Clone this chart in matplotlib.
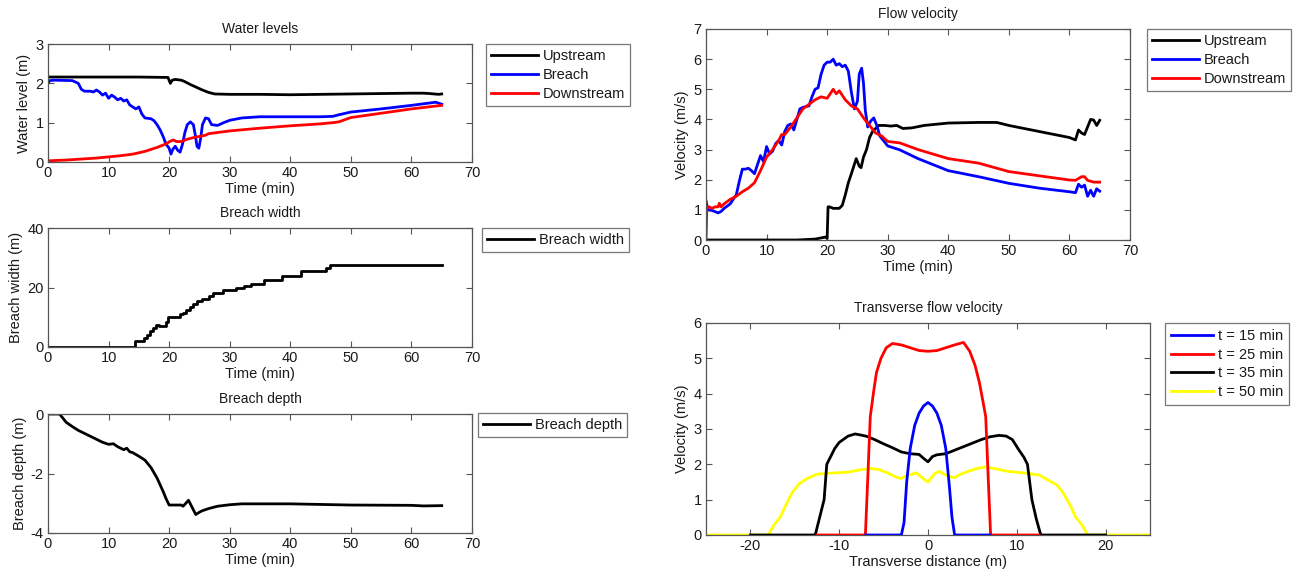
import matplotlib
matplotlib.use("Agg")
import matplotlib.pyplot as plt

plt.rcParams['font.family'] = ['Liberation Sans', 'DejaVu Sans']
plt.rcParams['axes.unicode_minus'] = False

# ---------------- Water levels (m) vs time (min) ----------------
t_up = [0, 5, 10, 15, 19.8, 20.2, 20.5, 21, 22, 22.5, 23.5, 24.5, 25.5, 26.5, 27.5,
        30, 35, 40, 45, 50, 55, 60, 62, 63, 64.5, 65]
level_up = [2.16, 2.16, 2.16, 2.16, 2.15, 2.0, 2.08, 2.1, 2.08, 2.05, 1.97, 1.9, 1.83, 1.77, 1.73,
            1.72, 1.72, 1.71, 1.72, 1.73, 1.74, 1.75, 1.75, 1.74, 1.72, 1.73]

t_br = [0, 0.3, 1, 4, 5, 5.5, 6, 7, 7.5, 8, 8.5, 9, 9.5, 10, 10.5, 11, 11.5, 12, 12.5, 13,
        13.5, 14, 14.5, 15, 15.5, 16, 17, 17.5, 18, 18.5, 19, 19.5, 20, 20.3, 20.6, 21, 21.4,
        21.8, 22.2, 22.6, 23, 23.5, 24, 24.3, 24.6, 24.9, 25.2, 25.5, 26, 26.5, 27, 28, 29,
        30, 32, 35, 40, 45, 47, 48, 50, 55, 60, 63, 64, 65]
level_br = [2.0, 2.07, 2.08, 2.07, 2.0, 1.85, 1.8, 1.8, 1.78, 1.83, 1.78, 1.7, 1.75, 1.62, 1.7,
            1.65, 1.58, 1.62, 1.55, 1.58, 1.45, 1.4, 1.35, 1.4, 1.22, 1.12, 1.1, 1.05, 0.95,
            0.82, 0.65, 0.45, 0.35, 0.2, 0.32, 0.4, 0.3, 0.25, 0.45, 0.75, 0.95, 1.02, 0.95,
            0.7, 0.4, 0.35, 0.6, 0.95, 1.12, 1.1, 0.95, 0.93, 1.0, 1.06, 1.12, 1.15, 1.15, 1.15,
            1.16, 1.2, 1.27, 1.35, 1.44, 1.5, 1.52, 1.47]

t_dn = [0, 3, 6, 8, 10, 12, 14, 16, 17, 18, 19, 19.7, 20.2, 20.7, 21.2, 22, 22.5, 23, 24, 25,
        26, 26.5, 27, 28, 30, 35, 40, 45, 47, 48, 50, 55, 60, 65]
level_dn = [0.03, 0.05, 0.08, 0.1, 0.13, 0.16, 0.2, 0.27, 0.32, 0.37, 0.43, 0.48, 0.53, 0.56,
            0.52, 0.52, 0.55, 0.58, 0.62, 0.65, 0.68, 0.72, 0.73, 0.75, 0.79, 0.86, 0.92,
            0.97, 1.0, 1.02, 1.13, 1.24, 1.35, 1.44]

# ---------------- Breach width (m) ----------------
t_bw = [0, 14.4, 15.8, 16.3, 16.9, 17.4, 17.8, 18.4, 19.4, 19.8, 21.8, 22.3, 22.8, 23.4, 24.0,
        24.6, 25.4, 26.5, 27.3, 28.9, 30.1, 31.0, 31.6, 32.4, 33.5, 35.6, 38.6, 41.8, 45.9,
        46.5, 65]
width_bw = [0, 2, 3, 4, 5.5, 6.5, 7.5, 7, 8.5, 10, 11, 11.5, 12.5, 13.5, 14.5, 15.3, 16, 17,
            18, 19, 19.3, 19.7, 20, 20.6, 21.2, 22.4, 23.8, 25.5, 26.5, 27.6, 27.6]

# ---------------- Breach depth (m) ----------------
t_bd = [0, 1.9, 2.5, 3, 4, 5, 6, 7, 8, 9, 10, 10.8, 11.5, 12.5, 13, 13.5, 14, 15, 16, 17, 18,
        19, 19.5, 20, 22, 22.3, 23.2, 24.4, 25, 25.5, 26.5, 28, 30, 32, 40, 45, 50, 60, 62, 65]
depth_bd = [0, 0, -0.15, -0.28, -0.42, -0.55, -0.65, -0.75, -0.85, -0.95, -1.02, -1.0, -1.1,
            -1.2, -1.15, -1.27, -1.3, -1.42, -1.55, -1.8, -2.15, -2.6, -2.85, -3.06, -3.06,
            -3.1, -2.9, -3.38, -3.3, -3.25, -3.18, -3.1, -3.05, -3.02, -3.02, -3.04, -3.06,
            -3.07, -3.09, -3.08]

# ---------------- Flow velocity (m/s) ----------------
t_vk = [0, 15, 18, 19.8, 20.0, 20.15, 20.4, 21, 22, 22.5, 23, 23.5, 24, 24.8, 25.3, 25.6, 26,
        26.5, 27, 27.5, 28.5, 29.5, 30.5, 31.5, 32.5, 34, 36, 40, 45, 48, 50, 55, 60, 61,
        61.5, 62, 62.5, 63, 63.5, 64, 64.5, 65]
vel_up = [0, 0, 0.03, 0.1, 0.05, 1.1, 1.1, 1.05, 1.05, 1.15, 1.5, 1.9, 2.2, 2.7, 2.45, 2.4,
          2.75, 3.0, 3.4, 3.6, 3.8, 3.8, 3.78, 3.8, 3.7, 3.72, 3.8, 3.88, 3.9, 3.9, 3.8, 3.6,
          3.4, 3.32, 3.65, 3.55, 3.5, 3.75, 4.0, 3.98, 3.8, 3.97]

t_vb = [0, 0.3, 1, 2, 2.5, 3, 4, 5, 5.5, 6, 6.5, 7, 7.5, 8, 8.5, 9, 9.5, 10, 10.5, 11, 11.5,
        12, 12.5, 13, 13.5, 14, 14.5, 15, 15.5, 16, 17, 17.5, 18, 18.5, 19, 19.5, 20, 20.5,
        21, 21.5, 22, 22.5, 23, 23.5, 24, 24.5, 25, 25.3, 25.7, 26, 26.3, 26.7, 27.2, 27.7,
        28.2, 28.7, 30, 32, 35, 40, 45, 50, 55, 60, 61, 61.5, 62, 62.5, 63, 63.5, 64, 64.5, 65]
vel_br = [1.3, 1.0, 0.98, 0.9, 0.95, 1.05, 1.2, 1.5, 1.95, 2.35, 2.35, 2.38, 2.3, 2.2, 2.5,
          2.8, 2.6, 3.1, 2.85, 2.95, 3.2, 3.3, 3.15, 3.6, 3.8, 3.85, 3.65, 4.0, 4.35, 4.4,
          4.45, 4.75, 5.0, 5.05, 5.5, 5.8, 5.9, 5.9, 6.0, 5.8, 5.85, 5.75, 5.8, 5.6, 4.9,
          4.35, 4.6, 5.5, 5.7, 5.2, 4.3, 3.75, 3.95, 4.05, 3.8, 3.45, 3.12, 2.99, 2.7, 2.3,
          2.1, 1.88, 1.72, 1.6, 1.57, 1.85, 1.75, 1.82, 1.45, 1.65, 1.45, 1.7, 1.62]

t_vr = [0, 0.15, 0.5, 1, 1.5, 2, 2.2, 2.5, 3, 4, 5, 6, 7, 8, 9, 10, 11, 12, 12.5, 13, 14, 15,
        16, 17, 18, 19, 20, 20.5, 21, 21.5, 22, 22.5, 23, 24, 25, 26, 27, 28, 29, 30, 32, 35,
        40, 45, 50, 55, 60, 61, 62, 62.5, 63, 64, 65]
vel_dn = [0, 1.1, 1.1, 1.05, 1.1, 1.1, 1.22, 1.1, 1.2, 1.35, 1.45, 1.6, 1.72, 1.9, 2.3, 2.75,
          3.0, 3.3, 3.5, 3.5, 3.75, 4.05, 4.35, 4.5, 4.65, 4.75, 4.7, 4.85, 5.0, 4.85, 4.95,
          4.8, 4.65, 4.45, 4.35, 4.05, 3.8, 3.55, 3.45, 3.27, 3.22, 3.0, 2.7, 2.55, 2.27,
          2.13, 1.99, 1.98, 2.1, 2.1, 1.98, 1.92, 1.92]

# ---------------- Transverse velocity profiles (m/s) ----------------
x_15 = [-7, -3.0, -2.7, -2.4, -2.0, -1.5, -1.0, -0.5, 0, 0.5, 1.0, 1.5, 2.0, 2.4, 2.7, 3.0, 7]
v_15 = [0, 0, 0.35, 1.5, 2.45, 3.1, 3.45, 3.65, 3.75, 3.65, 3.45, 3.1, 2.45, 1.4, 0.5, 0, 0]

x_25 = [-12.5, -7.05, -6.8, -6.5, -6.1, -5.8, -5.3, -4.7, -4.0, -3.0, -2.0, -1.0, 0, 1.0, 2.0,
        3.0, 4.0, 4.7, 5.3, 5.8, 6.1, 6.5, 6.8, 7.05, 12.5]
v_25 = [0, 0, 1.5, 3.35, 4.1, 4.6, 5.0, 5.3, 5.42, 5.38, 5.3, 5.22, 5.2, 5.22, 5.3, 5.38,
        5.45, 5.2, 4.8, 4.3, 3.9, 3.35, 1.5, 0, 0]

x_35 = [-20, -12.7, -12.2, -11.7, -11.4, -11.0, -10.5, -10, -9, -8.2, -7, -6, -5, -4, -3, -2,
        -1, -0.5, 0, 0.5, 1, 2, 3, 4, 5, 6, 7, 8, 8.8, 9.5, 10.2, 10.8, 11.2, 11.7, 12.2,
        12.7, 20]
v_35 = [0, 0, 0.5, 1.0, 2.0, 2.2, 2.45, 2.62, 2.8, 2.86, 2.8, 2.7, 2.58, 2.47, 2.35, 2.3,
        2.28, 2.17, 2.07, 2.22, 2.27, 2.3, 2.4, 2.5, 2.6, 2.7, 2.78, 2.82, 2.8, 2.7, 2.42,
        2.2, 2.0, 1.0, 0.45, 0, 0]

x_50 = [-25, -18.0, -17.3, -16.6, -16.0, -15.3, -14.5, -13.6, -12.5, -11, -9, -7.5, -6.5,
        -5.5, -4.5, -3.5, -3, -2.5, -1.8, -1.3, -0.8, -0.3, 0, 0.3, 0.8, 1.3, 1.8, 2.5, 3.0,
        3.5, 4.5, 5.5, 6.5, 7.5, 9, 11, 12.5, 13.5, 14.5, 15.2, 16.0, 16.6, 17.3, 18.0, 25]
v_50 = [0, 0, 0.3, 0.52, 0.85, 1.2, 1.45, 1.6, 1.72, 1.75, 1.78, 1.85, 1.88, 1.85, 1.75,
        1.63, 1.6, 1.68, 1.72, 1.76, 1.65, 1.55, 1.5, 1.6, 1.75, 1.8, 1.72, 1.65, 1.62, 1.7,
        1.8, 1.88, 1.93, 1.88, 1.8, 1.75, 1.7, 1.56, 1.42, 1.2, 0.85, 0.52, 0.3, 0, 0]

W, H = 1301, 576
fig = plt.figure(figsize=(W / 100, H / 100), dpi=100)


def px_axes(x0, y0, x1, y1):
    return fig.add_axes([x0 / W, 1 - y1 / H, (x1 - x0) / W, (y1 - y0) / H])


FRAME = '#555555'
TXT = '#1a1a1a'
LW = 2.0


def style(ax):
    for s in ax.spines.values():
        s.set_color(FRAME)
        s.set_linewidth(0.9)
    ax.tick_params(direction='in', length=4, width=0.8, color=FRAME, top=True, right=True,
                   labelsize=10.5, labelcolor=TXT, pad=3)


def legend(ax, x, y, **kw):
    opts = dict(loc='upper left', bbox_to_anchor=(x / W, 1 - y / H),
                bbox_transform=fig.transFigure, borderaxespad=0, fancybox=False,
                framealpha=1, edgecolor='#777777', fontsize=10.5, handlelength=3.2,
                handletextpad=0.35, labelspacing=0.33, borderpad=0.35)
    opts.update(kw)
    lg = ax.legend(**opts)
    lg.get_frame().set_linewidth(0.9)
    for t in lg.get_texts():
        t.set_color(TXT)
    return lg


# Water levels
ax1 = px_axes(48, 44, 472, 162)
ax1.plot(t_up, level_up, color='k', lw=LW, label='Upstream')
ax1.plot(t_br, level_br, color='#0000ff', lw=LW, label='Breach')
ax1.plot(t_dn, level_dn, color='#ff0000', lw=LW, label='Downstream')
ax1.set_xlim(0, 70)
ax1.set_ylim(0, 3)
ax1.set_yticks([0, 1, 2, 3])
ax1.set_title('Water levels', fontsize=10, color=TXT, pad=8)
ax1.set_xlabel('Time (min)', fontsize=10.5, color=TXT, labelpad=1)
ax1.set_ylabel('Water level (m)', fontsize=10.5, color=TXT, labelpad=3)
style(ax1)
legend(ax1, 486, 44)

# Breach width
ax2 = px_axes(48, 228, 472, 347)
ax2.plot(t_bw, width_bw, color='k', lw=LW, drawstyle='steps-post', label='Breach width')
ax2.set_xlim(0, 70)
ax2.set_ylim(0, 40)
ax2.set_yticks([0, 20, 40])
ax2.set_title('Breach width', fontsize=10, color=TXT, pad=8)
ax2.set_xlabel('Time (min)', fontsize=10.5, color=TXT, labelpad=1)
ax2.set_ylabel('Breach width (m)', fontsize=10.5, color=TXT, labelpad=3)
style(ax2)
legend(ax2, 482, 228)

# Breach depth
ax3 = px_axes(48, 414, 472, 533)
ax3.plot(t_bd, depth_bd, color='k', lw=LW, label='Breach depth')
ax3.set_xlim(0, 70)
ax3.set_ylim(-4, 0)
ax3.set_yticks([-4, -2, 0])
ax3.set_title('Breach depth', fontsize=10, color=TXT, pad=8)
ax3.set_xlabel('Time (min)', fontsize=10.5, color=TXT, labelpad=1)
ax3.set_ylabel('Breach depth (m)', fontsize=10.5, color=TXT, labelpad=3)
style(ax3)
legend(ax3, 478, 413)

# Flow velocity
ax4 = px_axes(706, 29, 1130, 240)
ax4.plot(t_vk, vel_up, color='k', lw=LW, label='Upstream')
ax4.plot(t_vb, vel_br, color='#0000ff', lw=LW, label='Breach')
ax4.plot(t_vr, vel_dn, color='#ff0000', lw=LW, label='Downstream')
ax4.set_xlim(0, 70)
ax4.set_ylim(0, 7)
ax4.set_yticks(range(0, 8))
ax4.set_title('Flow velocity', fontsize=10, color=TXT, pad=8)
ax4.set_xlabel('Time (min)', fontsize=10.5, color=TXT, labelpad=1)
ax4.set_ylabel('Velocity (m/s)', fontsize=10.5, color=TXT, labelpad=3)
style(ax4)
legend(ax4, 1147, 29)

# Transverse flow velocity
ax5 = px_axes(706, 323, 1150, 535)
ax5.plot(x_15, v_15, color='#0000ff', lw=LW, label='t = 15 min', zorder=5)
ax5.plot(x_25, v_25, color='#ff0000', lw=LW, label='t = 25 min', zorder=4)
ax5.plot(x_35, v_35, color='k', lw=LW, label='t = 35 min', zorder=3)
ax5.plot(x_50, v_50, color='#ffff00', lw=LW, label='t = 50 min', zorder=2)
ax5.set_xlim(-25, 25)
ax5.set_ylim(0, 6)
ax5.set_xticks([-20, -10, 0, 10, 20])
ax5.set_yticks(range(0, 7))
ax5.set_title('Transverse flow velocity', fontsize=10, color=TXT, pad=8)
ax5.set_xlabel('Transverse distance (m)', fontsize=10.5, color=TXT, labelpad=1)
ax5.set_ylabel('Velocity (m/s)', fontsize=10.5, color=TXT, labelpad=3)
style(ax5)
legend(ax5, 1165, 323, handlelength=2.9, handletextpad=0.35, borderpad=0.4)

fig.savefig('out.png', dpi=100, facecolor='white')
